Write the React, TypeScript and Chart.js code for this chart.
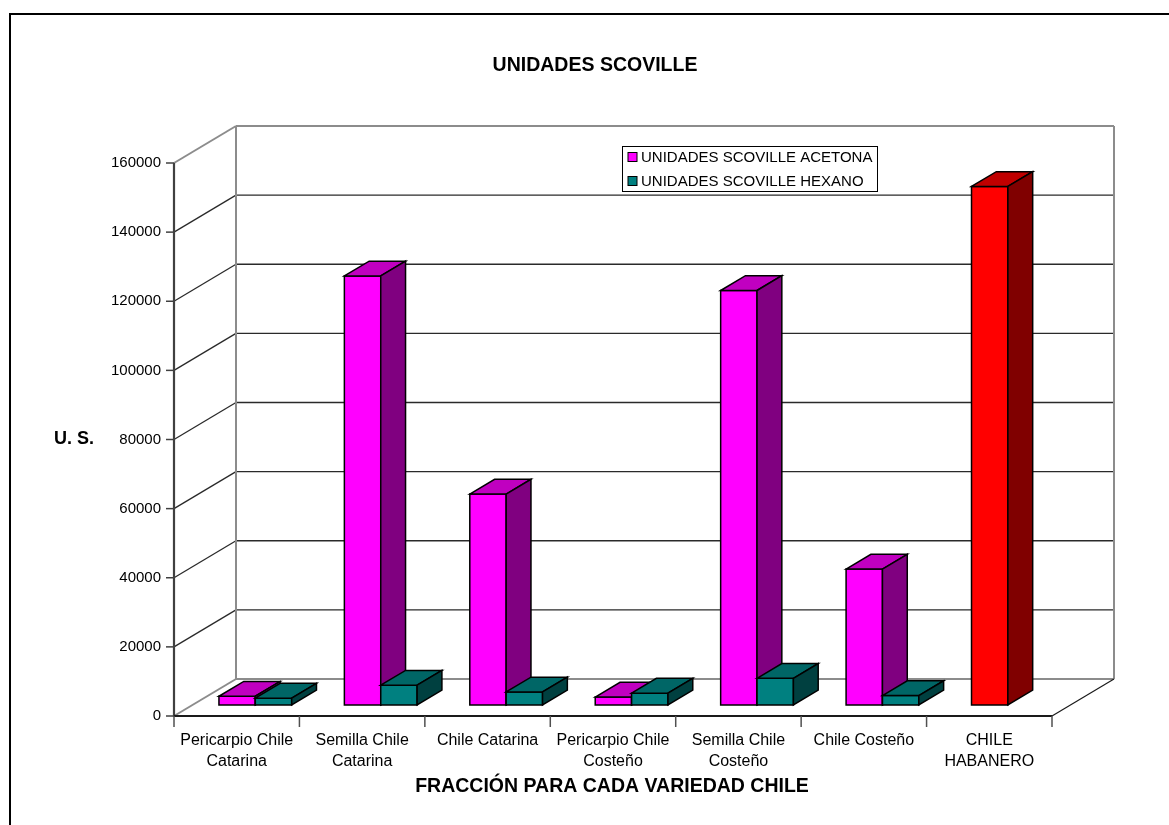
import React, { useEffect, useRef } from "react";
import { Chart, registerables } from "chart.js";

Chart.register(...registerables);

const CATEGORIES: (string | string[])[] = [
  ["Pericarpio Chile", "Catarina"],
  ["Semilla Chile", "Catarina"],
  "Chile Catarina",
  ["Pericarpio Chile", "Costeño"],
  ["Semilla Chile", "Costeño"],
  "Chile Costeño",
  ["CHILE", "HABANERO"],
];

const SERIES_LABELS = ["UNIDADES SCOVILLE ACETONA", "UNIDADES SCOVILLE HEXANO"];
const ACETONA = [2500, 124100, 61000, 2250, 119900, 39300, 150000];
const HEXANO: (number | null)[] = [1950, 5700, 3750, 3400, 7700, 2700, null];

const Y_MIN = 0;
const Y_MAX = 160000;
const Y_STEP = 20000;

const TITLE = "UNIDADES SCOVILLE";
const X_TITLE = "FRACCIÓN PARA CADA VARIEDAD CHILE";
const Y_TITLE = "U. S.";

// styling
const FONT = "'Liberation Sans', Arial, Helvetica, sans-serif";
const PINK = { front: "#FF00FF", top: "#C000C0", side: "#800080" };
const TEAL = { front: "#008080", top: "#006666", side: "#004040" };
const RED = { front: "#FF0000", top: "#C00000", side: "#800000" };
const ACETONA_COLORS = ACETONA.map((_, i) => (i === ACETONA.length - 1 ? RED : PINK));
const HEXANO_COLORS = HEXANO.map(() => TEAL);
const SERIES_COLORS = [ACETONA_COLORS, HEXANO_COLORS];

const DX = 62;
const DY = -37;
const F0 = 0.3;
const F1 = 0.7;

function line(ctx: CanvasRenderingContext2D, x1: number, y1: number, x2: number, y2: number, color: string, w: number) {
  ctx.save();
  ctx.strokeStyle = color;
  ctx.lineWidth = w;
  ctx.beginPath();
  ctx.moveTo(x1, y1);
  ctx.lineTo(x2, y2);
  ctx.stroke();
  ctx.restore();
}

function poly(ctx: CanvasRenderingContext2D, pts: number[][], fill: string) {
  ctx.beginPath();
  ctx.moveTo(pts[0][0], pts[0][1]);
  for (let k = 1; k < pts.length; k++) ctx.lineTo(pts[k][0], pts[k][1]);
  ctx.closePath();
  ctx.fillStyle = fill;
  ctx.fill();
  ctx.stroke();
}

const scenePlugin = {
  id: "scene3d",
  beforeDatasetsDraw(chart: any) {
    const ctx: CanvasRenderingContext2D = chart.ctx;
    const { left, right, top, bottom } = chart.chartArea;
    const ys = chart.scales.y;
    const ticks = ys.ticks;
    // outer frame
    ctx.save();
    ctx.strokeStyle = "#000";
    ctx.lineWidth = 2;
    ctx.strokeRect(10, 14, 1300, 1000);
    ctx.restore();

    ticks.forEach((t: any, idx: number) => {
      const y = ys.getPixelForValue(t.value);
      const edge = idx === 0 || idx === ticks.length - 1;
      const col = edge ? "#8c8c8c" : "#2a2a2a";
      const w = edge ? 2 : 1.3;
      line(ctx, left + DX, y + DY, right + DX, y + DY, col, w);
      line(ctx, left, y, left + DX, y + DY, col, w);
      // tick mark
      line(ctx, left - 8, y, left, y, "#404040", 1.5);
    });
    line(ctx, left + DX, top + DY, left + DX, bottom + DY, "#8c8c8c", 2);
    line(ctx, right + DX, top + DY, right + DX, bottom + DY, "#8c8c8c", 2);
    line(ctx, right, bottom, right + DX, bottom + DY, "#1a1a1a", 1.2);
    // front axes
    line(ctx, left, top, left, bottom + 1, "#404040", 2.2);
    line(ctx, left, bottom, right, bottom, "#1a1a1a", 2);
    const n = chart.data.labels.length;
    for (let i = 0; i <= n; i++) {
      const x = left + (i * (right - left)) / n;
      line(ctx, x, bottom, x, bottom + 11, "#505050", 1.5);
    }
  },
  afterDatasetsDraw(chart: any) {
    const ctx: CanvasRenderingContext2D = chart.ctx;
    const n = chart.data.labels.length;
    const bx = (F1 - F0) * DX;
    const by = (F1 - F0) * DY;
    ctx.save();
    ctx.strokeStyle = "#000";
    ctx.lineWidth = 1.5;
    ctx.lineJoin = "miter";
    for (let i = 0; i < n; i++) {
      chart.data.datasets.forEach((ds: any, d: number) => {
        const v = ds.data[i];
        if (v === null || v === undefined) return;
        const el = chart.getDatasetMeta(d).data[i];
        const c = SERIES_COLORS[d][i];
        const x0 = el.x - el.width / 2 + F0 * DX;
        const x1 = el.x + el.width / 2 + F0 * DX;
        const yt = el.y + F0 * DY;
        const yb = el.base + F0 * DY;
        poly(ctx, [[x0, yt], [x1, yt], [x1, yb], [x0, yb]], c.front);
        poly(ctx, [[x0, yt], [x0 + bx, yt + by], [x1 + bx, yt + by], [x1, yt]], c.top);
        poly(ctx, [[x1, yt], [x1 + bx, yt + by], [x1 + bx, yb + by], [x1, yb]], c.side);
      });
    }
    ctx.restore();

    // titles
    ctx.save();
    ctx.fillStyle = "#000";
    ctx.textAlign = "center";
    ctx.textBaseline = "middle";
    ctx.font = `bold 19.5px ${FONT}`;
    ctx.fillText(TITLE, 595, 66);
    ctx.fillText(X_TITLE, 612, 787);
    ctx.font = `bold 18px ${FONT}`;
    ctx.fillText(Y_TITLE, 74, 439);

    // legend
    ctx.lineWidth = 1;
    ctx.strokeStyle = "#000";
    ctx.strokeRect(622.5, 146.5, 255, 45);
    ctx.font = `15px ${FONT}`;
    ctx.textAlign = "left";
    const legendColors = [PINK.front, TEAL.front];
    chart.data.datasets.forEach((ds: any, d: number) => {
      const cy = 157 + d * 24;
      ctx.fillStyle = legendColors[d];
      ctx.fillRect(628, cy - 4.5, 9, 9);
      ctx.strokeRect(628, cy - 4.5, 9, 9);
      ctx.fillStyle = "#000";
      ctx.fillText(ds.label, 641, cy + 0.5);
    });
    ctx.restore();
  },
};

export default function App() {
  const ref = useRef<HTMLCanvasElement | null>(null);
  useEffect(() => {
    if (!ref.current) return;
    const chart = new Chart(ref.current, {
      type: "bar",
      data: {
        labels: CATEGORIES,
        datasets: [
          { label: SERIES_LABELS[0], data: ACETONA, backgroundColor: "rgba(0,0,0,0)", borderWidth: 0 },
          { label: SERIES_LABELS[1], data: HEXANO, backgroundColor: "rgba(0,0,0,0)", borderWidth: 0 },
        ],
      },
      options: {
        responsive: false,
        animation: false,
        devicePixelRatio: 1,
        layout: { padding: { top: 163, right: 117, bottom: 0, left: 0 } },
        datasets: { bar: { categoryPercentage: 0.58, barPercentage: 1.0 } },
        plugins: { legend: { display: false }, title: { display: false }, tooltip: { enabled: false } },
        scales: {
          x: {
            grid: { display: false, drawTicks: false },
            border: { display: false },
            ticks: { color: "#000", font: { family: FONT, size: 16, lineHeight: 1.3 }, padding: 14, maxRotation: 0, autoSkip: false },
            afterFit: (s: any) => { s.height = 109; },
          },
          y: {
            min: Y_MIN,
            max: Y_MAX,
            grid: { display: false, drawTicks: false },
            border: { display: false },
            ticks: { stepSize: Y_STEP, color: "#000", font: { family: FONT, size: 15 }, padding: 13, callback: (v: any) => String(v) },
            afterFit: (s: any) => { s.width = 174; },
          },
        },
      },
      plugins: [scenePlugin],
    } as any);
    return () => chart.destroy();
  }, []);
  return (
    <div style={{ position: "fixed", left: 0, top: 0, width: 1169, height: 825, background: "#fff" }}>
      <canvas ref={ref} width={1169} height={825} style={{ display: "block" }} />
    </div>
  );
}
